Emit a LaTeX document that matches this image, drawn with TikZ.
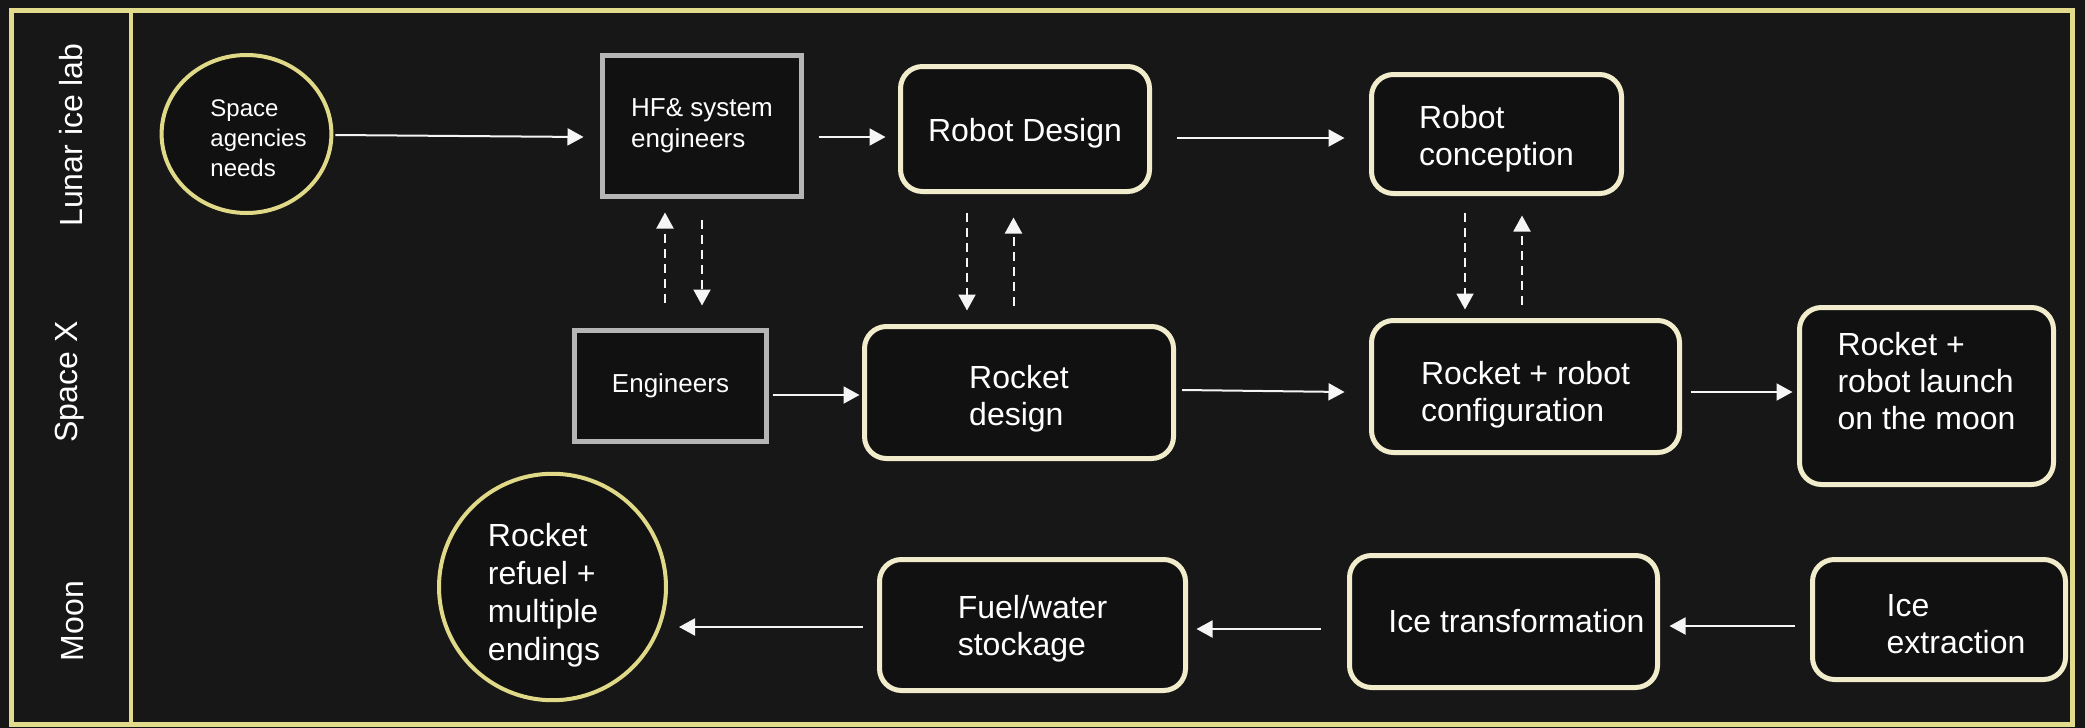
\documentclass[tikz,border=0pt]{standalone}
\usepackage{fontspec}
\setmainfont{Liberation Sans}
\usetikzlibrary{arrows.meta,calc,shapes.geometric}
\definecolor{bgc}{RGB}{23,23,23}
\definecolor{boxfill}{RGB}{17,17,17}
\definecolor{framec}{RGB}{226,219,140}
\definecolor{circc}{RGB}{224,218,136}
\definecolor{cream}{RGB}{241,237,204}
\definecolor{grayc}{RGB}{181,181,181}
\definecolor{arrc}{RGB}{245,245,245}
\newcommand{\tstrut}[1]{\rule{0pt}{#1pt}}
\newcommand{\bstrut}[1]{\rule[-#1pt]{0pt}{0pt}}
\begin{document}
\begin{tikzpicture}[x=1pt,y=-1pt,
  creambox/.style={draw=cream, line width=5pt, fill=boxfill, rounded corners=22pt, text=white, align=left, font=\fontsize{32}{37}\selectfont, inner sep=0pt},
  graybox/.style={draw=grayc, line width=5pt, fill=boxfill, text=white, align=left, font=\fontsize{26}{31}\selectfont, inner sep=0pt},
  circ/.style={ellipse, draw=circc, line width=4pt, fill=boxfill, text=white, align=left, inner sep=0pt},
  arr/.style={draw=arrc, line width=2pt, -{Triangle[length=16pt,width=17pt]}},
  darr/.style={arr, dash pattern=on 9pt off 6pt},
  lane/.style={rotate=90, text=white, font=\fontsize{32}{37}\selectfont}
]
\useasboundingbox (0,0) rectangle (2085,728);
\fill[bgc] (0,0) rectangle (2085,728);
% frame and lane column
\draw[framec, line width=5pt] (11,10) rectangle (2072,724.5);
\draw[framec, line width=4pt] (131,10) -- (131,724.5);
\node[lane] (l1) at (71,135) {Lunar ice lab};
\node[lane] (l2) at (70,382) {Space X};
\node[lane] (l3) at (73,621) {Moon};

% nodes
\node[circ, minimum width=165pt, minimum height=158pt, font=\fontsize{24}{30}\selectfont] (c1) at (246.5,134) {\hspace*{24pt}\tstrut{25}Space\\\hspace*{24pt}agencies\\\hspace*{24pt}needs};
\node[graybox, minimum width=199pt, minimum height=141pt] (hf) at (702,126) {HF\& system\\engineers};
\node[creambox, minimum width=249pt, minimum height=125pt] (rd) at (1025,129) {\tstrut{31.5}Robot Design};
\node[creambox, minimum width=250pt, minimum height=119pt] (rc) at (1496.5,134) {\tstrut{32.5}Robot\\conception};
\node[graybox, minimum width=192pt, minimum height=111pt] (eng) at (670.5,386) {Engineers};
\node[creambox, minimum width=309pt, minimum height=132pt] (rkd) at (1019,392.5) {\tstrut{35.5}Rocket\\design};
\node[creambox, minimum width=308pt, minimum height=132pt] (cfg) at (1525.5,386.5) {\tstrut{40.5}Rocket + robot\\configuration};
\node[creambox, minimum width=254pt, minimum height=177pt] (lau) at (1926.5,396) {Rocket +\\robot launch\\on the moon\bstrut{30}};
\node[creambox, minimum width=253pt, minimum height=120pt] (ie) at (1939,619.5) {\hspace*{34pt}\tstrut{30.5}Ice\\\hspace*{34pt}extraction};
\node[creambox, minimum width=308pt, minimum height=132pt] (it) at (1503.5,621.5) {\hspace*{26pt}Ice transformation};
\node[creambox, minimum width=306pt, minimum height=131pt] (fw) at (1032.5,625) {\tstrut{31.5}Fuel/water\\stockage};
\node[circ, minimum width=227pt, minimum height=224pt, font=\fontsize{32}{38}\selectfont] (c2) at (552.5,587) {\tstrut{39.5}Rocket\\refuel +\\multiple\\endings\hspace*{17pt}\mbox{}};

% solid arrows
\draw[arr] ($(c1.east)+(2,1)$) -- ($(hf.west)+(-16.5,11)$);
\draw[arr] ($(hf.east)+(14.5,11)$) -- ($(rd.west)+(-12.5,8)$);
\draw[arr] ($(rd.east)+(24.5,9)$) -- ($(rc.west)+(-24.5,4)$);
\draw[arr] ($(eng.east)+(3.5,9)$) -- ($(rkd.west)+(-2.5,2.5)$);
\draw[arr] ($(rkd.east)+(6,-2.5)$) -- ($(cfg.west)+(-24.5,5.5)$);
\draw[arr] ($(cfg.east)+(8.5,5.5)$) -- ($(lau.west)+(-4.5,-4)$);
\draw[arr] ($(ie.west)+(-15.5,6.5)$) -- ($(it.east)+(9.5,4.5)$);
\draw[arr] ($(it.west)+(-26.5,7.5)$) -- ($(fw.east)+(8.5,4)$);
\draw[arr] ($(fw.west)+(-14.5,2)$) -- ($(c2.east)+(11,40)$);

% dashed arrows
\draw[darr] ($(eng.north)+(-5.5,-25.5)$) -- ($(hf.south)+(-37,13.5)$);
\draw[darr] ($(hf.south)+(0,20.5)$) -- ($(eng.north)+(31.5,-22.5)$);
\draw[darr] ($(rd.south)+(-58,18.5)$) -- ($(rkd.north)+(-52,-13.5)$);
\draw[darr] ($(rkd.north)+(-5.5,-18.5)$) -- ($(rd.south)+(-11.5,23.5)$);
\draw[darr] ($(rc.south)+(-31.5,16.5)$) -- ($(cfg.north)+(-60.5,-8.5)$);
\draw[darr] ($(cfg.north)+(-3.5,-13.5)$) -- ($(rc.south)+(25.5,19.5)$);
\end{tikzpicture}
\end{document}
